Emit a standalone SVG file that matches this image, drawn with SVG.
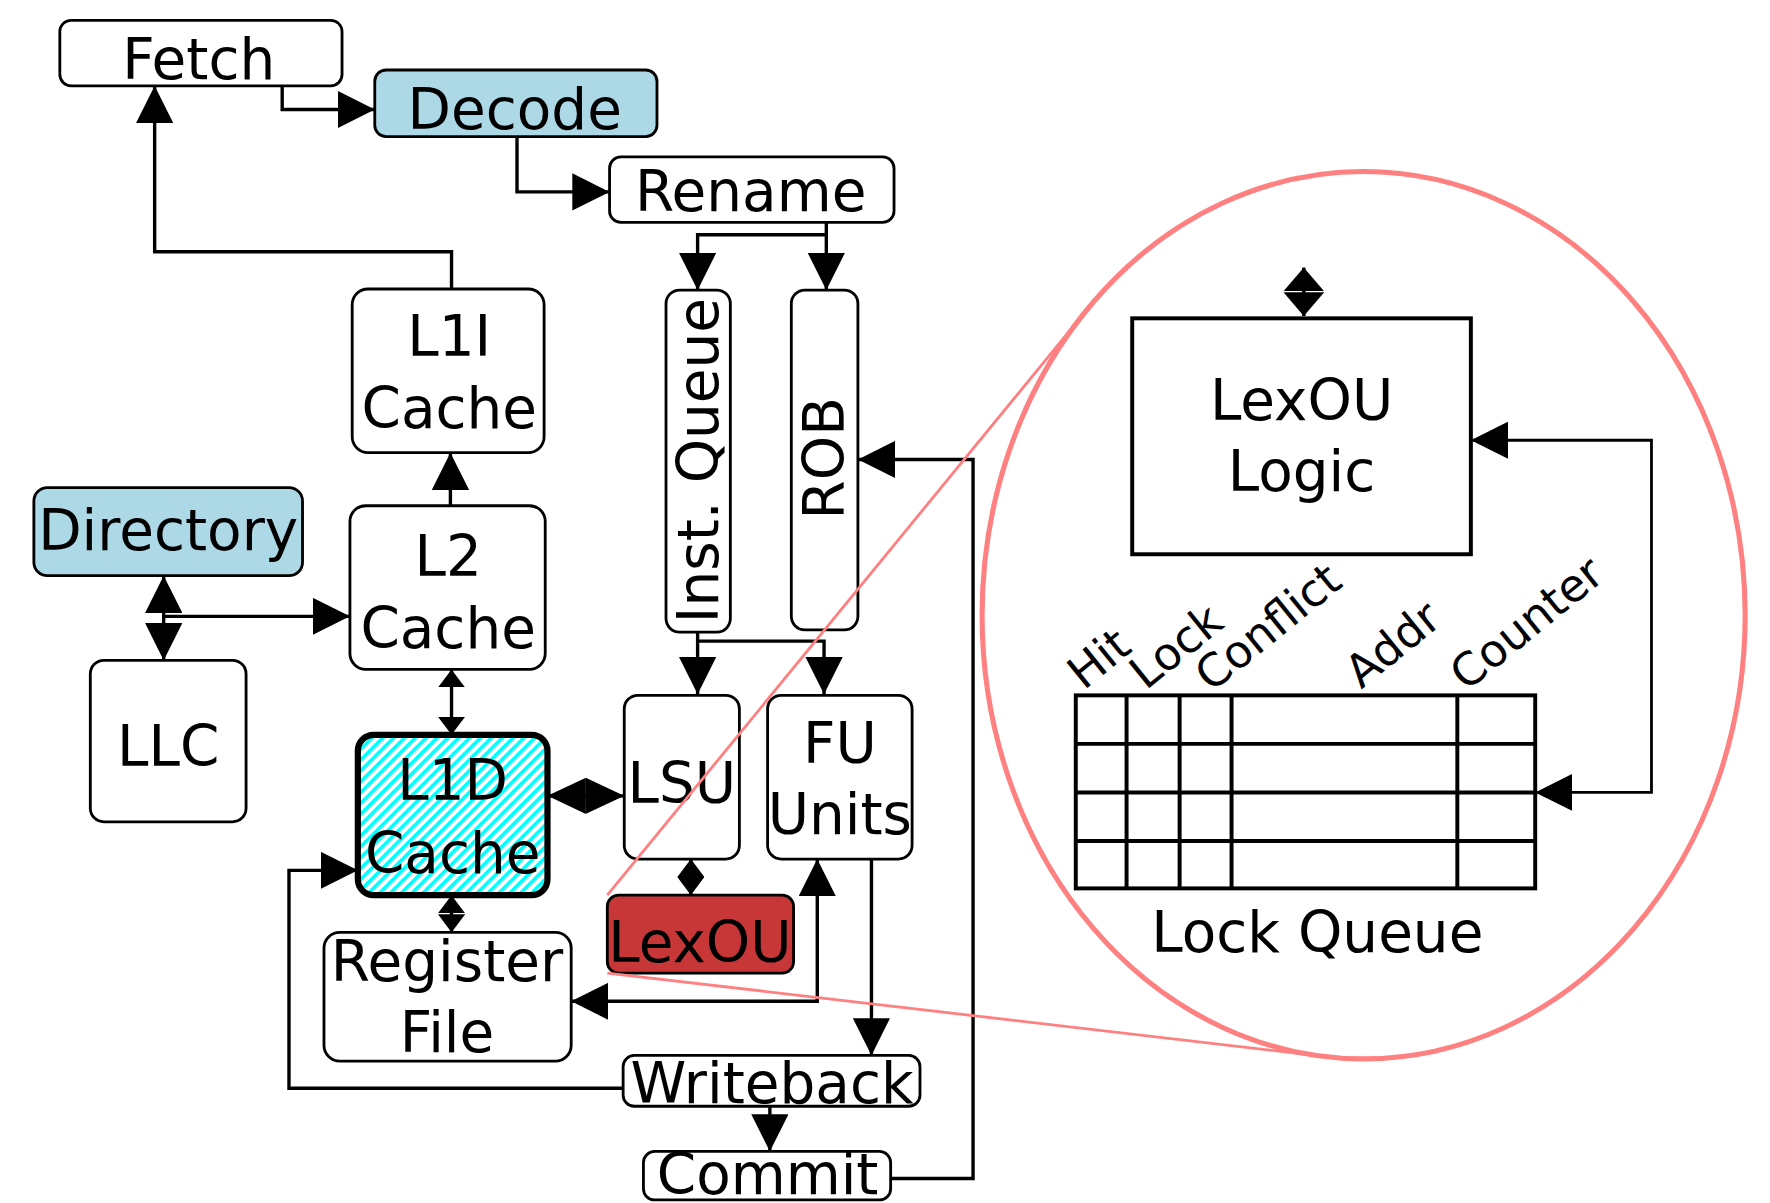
<svg xmlns="http://www.w3.org/2000/svg" width="1770" height="1203" viewBox="0 0 1770 1203">
<defs>
<style>
.box{fill:#fff;stroke:#000;stroke-width:2.5}
.t{font-family:"DejaVu Sans","Liberation Sans",sans-serif;font-size:50px;text-anchor:middle;fill:#000}
.ts{font-family:"DejaVu Sans","Liberation Sans",sans-serif;font-size:40px;fill:#000}
.c{fill:none;stroke:#000;stroke-width:3}
.zoom{fill:none;stroke:#ff8080}
.grid{fill:none;stroke:#000;stroke-width:3.5}
</style>
<marker id="big" viewBox="0 0 33 33" refX="33" refY="16.5" markerWidth="33" markerHeight="33" markerUnits="userSpaceOnUse" orient="auto-start-reverse"><path d="M0,0L33,16.5L0,33z"/></marker>
<marker id="mid" viewBox="0 0 34 32" refX="34" refY="16" markerWidth="34" markerHeight="32" markerUnits="userSpaceOnUse" orient="auto-start-reverse"><path d="M0,0L34,16L0,32z"/></marker>
<marker id="sm" viewBox="0 0 16 24" refX="16" refY="12" markerWidth="16" markerHeight="24" markerUnits="userSpaceOnUse" orient="auto-start-reverse"><path d="M0,0L16,12L0,24z"/></marker>
<marker id="dia" viewBox="0 0 21 36" refX="21" refY="18" markerWidth="21" markerHeight="36" markerUnits="userSpaceOnUse" orient="auto-start-reverse"><path d="M0,0L21,18L0,36z"/></marker>
<pattern id="hatch" patternUnits="userSpaceOnUse" width="6.8" height="6.8" patternTransform="rotate(45)"><rect width="6.8" height="6.8" fill="#fff"/><rect width="3.2" height="6.8" fill="#00ffff"/></pattern>
</defs>
<rect width="1770" height="1203" fill="#fff"/>
<g transform="scale(1.12883)">
<g id="fetch"><rect class="box" x="53" y="18" width="250" height="58" rx="10"/><text class="t" x="176" y="70">Fetch</text></g>
<g id="decode"><rect class="box" x="332" y="62" width="250" height="59" rx="10" style="fill:#add8e6"/><text class="t" x="456" y="114">Decode</text></g>
<g id="rename"><rect class="box" x="540" y="139" width="252" height="58" rx="10"/><text class="t" x="665" y="187">Rename</text></g>
<g id="l1i"><rect class="box" x="312" y="256" width="170" height="145" rx="14"/><text class="t" x="398" y="315">L1I</text><text class="t" x="398" y="379">Cache</text></g>
<g id="l2"><rect class="box" x="310" y="448" width="173" height="145" rx="14"/><text class="t" x="397" y="510">L2</text><text class="t" x="397" y="574">Cache</text></g>
<g id="directory"><rect class="box" x="30" y="432" width="238" height="78" rx="12" style="fill:#add8e6"/><text class="t" x="149" y="487">Directory</text></g>
<g id="llc"><rect class="box" x="80" y="585" width="138" height="143" rx="12"/><text class="t" x="149" y="679">LLC</text></g>
<g id="l1d"><rect class="box" x="317" y="651" width="168" height="142" rx="14" style="fill:url(#hatch);stroke-width:5.5"/><text class="t" x="401" y="709">L1D</text><text class="t" x="401" y="773">Cache</text></g>
<g id="inst-queue"><rect class="box" x="590" y="257" width="57" height="303" rx="12"/><text class="t" transform="translate(636,408) rotate(-90)">Inst. Queue</text></g>
<g id="rob"><rect class="box" x="701" y="257" width="59" height="301" rx="12"/><text class="t" transform="translate(748,406) rotate(-90)">ROB</text></g>
<g id="lsu"><rect class="box" x="553" y="616" width="102" height="145" rx="12"/><text class="t" x="604" y="711">LSU</text></g>
<g id="fu-units"><rect class="box" x="680" y="616" width="128" height="145" rx="12"/><text class="t" x="744" y="676">FU</text><text class="t" x="744" y="739">Units</text></g>
<g id="lexou"><rect class="box" x="538" y="793" width="165" height="69" rx="10" style="fill:#c83737"/><text class="t" x="620" y="852">LexOU</text></g>
<g id="register-file"><rect class="box" x="287" y="826" width="219" height="114" rx="14"/><text class="t" x="396" y="869">Register</text><text class="t" x="396" y="932">File</text></g>
<g id="writeback"><rect class="box" x="552" y="935" width="263" height="45" rx="10"/><text class="t" x="684" y="977">Writeback</text></g>
<g id="commit"><rect class="box" x="570" y="1020" width="219" height="43" rx="10"/><text class="t" x="680" y="1058">Commit</text></g>
<g id="lexou-logic"><rect x="1003" y="282" width="300" height="209" fill="#fff" stroke="#000" stroke-width="3.5"/><text class="t" x="1153" y="372">LexOU</text><text class="t" x="1153" y="435">Logic</text></g>
<g id="lock-queue">
<rect class="grid" x="953" y="616" width="407" height="171"/>
<path class="grid" d="M953,659H1360M953,702H1360M953,745H1360M998,616V787M1045,616V787M1091,616V787M1291,616V787"/>
<text class="ts" transform="translate(960,612) rotate(-39)">Hit</text>
<text class="ts" transform="translate(1015,612) rotate(-39)">Lock</text>
<text class="ts" transform="translate(1073,614) rotate(-39)">Conflict</text>
<text class="ts" transform="translate(1206,611) rotate(-39)">Addr</text>
<text class="ts" transform="translate(1299,613) rotate(-39)">Counter</text>
<text class="t" x="1167" y="843">Lock Queue</text>
</g>
<g id="connectors">
<path class="c" d="M250,76V97H332" marker-end="url(#big)"/>
<path class="c" d="M458,121V170H540" marker-end="url(#big)"/>
<path class="c" d="M732,197V257" marker-end="url(#big)"/>
<path class="c" d="M732,208H618V257" marker-end="url(#big)"/>
<path class="c" d="M618,560V615" marker-end="url(#big)"/>
<path class="c" d="M618,568H730V615" marker-end="url(#big)"/>
<path class="c" d="M400,256V223H137V76" marker-end="url(#big)"/>
<path class="c" d="M399,448V401" marker-end="url(#big)"/>
<path class="c" d="M145,546H310" marker-end="url(#big)"/>
<path class="c" d="M145,510V585" marker-start="url(#big)" marker-end="url(#big)"/>
<path class="c" d="M400,593V651" marker-start="url(#sm)" marker-end="url(#sm)"/>
<path class="c" d="M485,705H553" marker-start="url(#mid)" marker-end="url(#mid)"/>
<path class="c" d="M612,761V793" marker-start="url(#sm)" marker-end="url(#sm)"/>
<path class="c" d="M400,793V826" marker-start="url(#sm)" marker-end="url(#sm)"/>
<path class="c" d="M506,887H724V761" marker-start="url(#big)" marker-end="url(#big)"/>
<path class="c" d="M772,761V935" marker-end="url(#big)"/>
<path class="c" d="M552,964H256V771H317" marker-end="url(#big)"/>
<path class="c" d="M682,980V1020" marker-end="url(#big)"/>
<path class="c" d="M789,1044H862V407H760" marker-end="url(#big)"/>
<path class="c" style="stroke-width:2.5" d="M1303,390H1463V702H1360" marker-start="url(#big)" marker-end="url(#big)"/>
<path class="c" d="M1155,237V280" marker-start="url(#dia)" marker-end="url(#dia)"/>
</g>
<g id="zoom-callout">
<ellipse class="zoom" cx="1208" cy="545" rx="338" ry="393" stroke-width="4.5"/>
<path class="zoom" stroke-width="2.5" d="M538,793L968,268M538,862L1174,936"/>
</g>
</g>
</svg>
